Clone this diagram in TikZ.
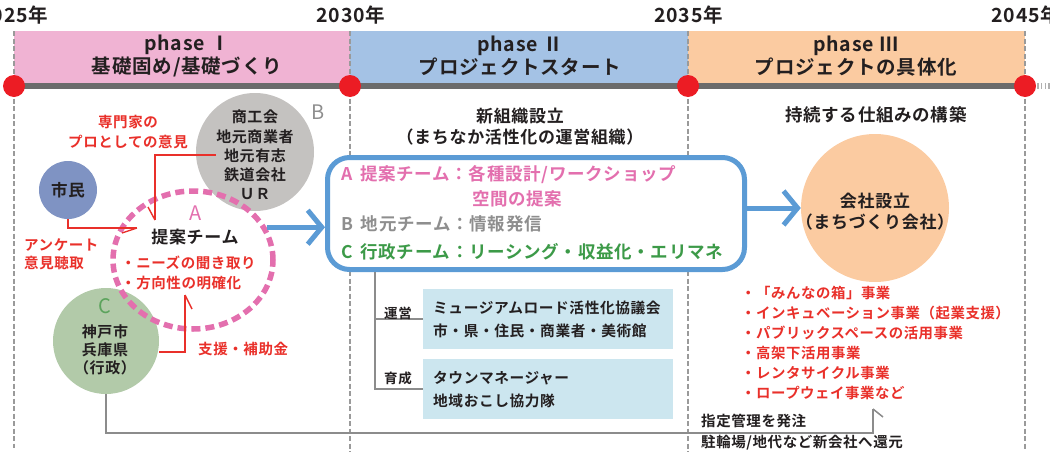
\documentclass[tikz,border=0pt]{standalone}
\usepackage{fontspec}
\setmainfont{Noto Sans CJK JP}[LetterSpace=5]
\newfontfamily\heavyjp{Noto Sans CJK JP Bold}[LetterSpace=4]
\usetikzlibrary{arrows.meta,shapes.geometric,calc}
\definecolor{ink}{HTML}{231F20}
\definecolor{pinkband}{HTML}{F0B3D3}
\definecolor{blueband}{HTML}{A4C2E5}
\definecolor{orangeband}{HTML}{FBCBA1}
\definecolor{tlgray}{HTML}{6B6B6B}
\definecolor{dotred}{HTML}{EC1C24}
\definecolor{redtext}{HTML}{E9302A}
\definecolor{apink}{HTML}{E36FAE}
\definecolor{bgraytxt}{HTML}{8E8E8E}
\definecolor{cgreen}{HTML}{3C9A48}
\definecolor{clabel}{HTML}{5BA35C}
\definecolor{shiminfill}{HTML}{7F93C3}
\definecolor{bfill}{HTML}{C4C2C0}
\definecolor{cfill}{HTML}{B2CAA9}
\definecolor{cblue}{HTML}{5B9BD5}
\definecolor{lbfill}{HTML}{CCE6EF}
\definecolor{linegray}{HTML}{8C8C8C}
\definecolor{dashgray}{HTML}{9A9A9A}
\definecolor{stubgray}{HTML}{B0B0B0}
\tikzset{
  yearlab/.style={inner sep=0pt, font=\fontsize{19.5}{22}\selectfont\heavyjp, text=ink},
  phasetxt/.style={inner sep=0pt, align=center, font=\fontsize{19.5}{23}\selectfont\heavyjp, text=ink},
  vdash/.style={draw=dashgray, line width=2pt, dash pattern=on 5pt off 2.5pt},
  reddot/.style={circle, fill=dotred, minimum size=22pt, inner sep=0pt},
  circtxt/.style={inner sep=0pt, align=center, font=\fontsize{15}{19.2}\selectfont\heavyjp, text=ink},
  redtxt/.style={inner sep=0pt, font=\fontsize{14.5}{19.5}\selectfont\heavyjp, text=redtext},
  blktxt/.style={inner sep=0pt, font=\fontsize{14.5}{21}\selectfont\heavyjp, text=ink},
  headtxt/.style={inner sep=0pt, align=center, font=\fontsize{17}{21}\selectfont\heavyjp, text=ink},
  boxtxt/.style={inner sep=0pt, anchor=west, font=\fontsize{17.5}{21}\selectfont\heavyjp},
  biglab/.style={inner sep=0pt, font=\fontsize{20}{22}\selectfont},
  redline/.style={draw=redtext, line width=1.4pt},
  grayline/.style={draw=linegray, line width=1.5pt},
  bluearrow/.style={draw=cblue, line width=5pt, -{Straight Barb[length=14pt, width=34pt]}},
  lbbox/.style={fill=lbfill, anchor=north west, minimum width=250pt, minimum height=60pt,
     inner xsep=10pt, text width=230pt, align=left, font=\fontsize{14.7}{23}\selectfont\heavyjp, text=ink},
  smalltxt/.style={inner sep=0pt, font=\fontsize{13.5}{16}\selectfont\heavyjp, text=ink}
}
\begin{document}
\begin{tikzpicture}[x=1pt,y=-1pt]
\useasboundingbox (0,0) rectangle (1050,461);
% phase bands
\fill[pinkband] (14,31) rectangle (350,83);
\fill[blueband] (350,31) rectangle (688,83);
\fill[orangeband] (688,31) rectangle (1025,83);
% dashed verticals
\draw[vdash] (14,31) -- (14,448);
\draw[vdash] (350,31) -- (350,452);
\draw[vdash] (688,31) -- (688,452);
\draw[vdash] (1025,31) -- (1025,450);
% timeline
\coordinate (tl0) at (14,86);
\coordinate (tl1) at (1025,86);
\draw[tlgray, line width=6pt] (tl0) -- (tl1);
\coordinate (stubA) at (1037,86);
\coordinate (stubB) at (1050,86);
\draw[stubgray, line width=6pt, dash pattern=on 1.5pt off 2.3pt] (stubA) -- (stubB);
\node[reddot] (d1) at (14,86) {};
\node[reddot] (d2) at (350,86) {};
\node[reddot] (d3) at (688,86) {};
\node[reddot] (d4) at (1025,86) {};
% years
\node[yearlab] (y1) at (14,15) {2025年};
\node[yearlab] (y2) at (351,15) {2030年};
\node[yearlab] (y3) at (688.5,15) {2035年};
\node[yearlab] (y4) at (1026,15) {2045年};
% phase titles
\node[phasetxt] (ph1) at (187,56) {phase Ⅰ\\基礎固め/基礎づくり};
\node[phasetxt] (ph2) at (520,56) {phase Ⅱ\\プロジェクトスタート};
\node[phasetxt] (ph3) at (856,56) {phase Ⅲ\\プロジェクトの具体化};
% phase I circles
\node[circle, fill=shiminfill, minimum size=58pt, inner sep=0pt, font=\fontsize{16.5}{18}\selectfont\heavyjp, text=ink] (shimin) at (68,190) {市民};
\node[circle, fill=bfill, minimum size=118pt, inner sep=0pt] (bcirc) at (255,152) {};
\node[circtxt] (btxt) at (255,155) {商工会\\地元商業者\\地元有志\\鉄道会社\\ＵＲ};
\node[biglab, text=bgraytxt] (blab) at (318,112) {B};
\node[circle, fill=cfill, minimum size=106pt, inner sep=0pt] (ccirc) at (106,341) {};
\node[biglab, text=clabel] (clab) at (105,306) {C};
\node[circtxt, font=\fontsize{15}{18}\selectfont\heavyjp] (ctxt) at (105,350) {神戸市\\兵庫県\\（行政）};
\node[ellipse, draw=apink, line width=5.5pt, dash pattern=on 9pt off 5pt, minimum width=160pt, minimum height=138pt, inner sep=0pt] (teian) at (193,260) {};
\node[biglab, text=apink] (alab) at (196,213) {A};
\node[inner sep=0pt, font=\fontsize{17}{20}\selectfont\heavyjp, text=ink] (teiantxt) at (195,237) {提案チーム};
\node[redtxt, anchor=west, align=left, font=\fontsize{14.5}{20}\selectfont\heavyjp] (needs) at (121,273) {・ニーズの聞き取り\\・方向性の明確化};
% red labels
\node[redtxt, align=center] (senmon) at (128,132) {専門家の\\プロとしての意見};
\node[redtxt, anchor=west, align=left, font=\fontsize{14.5}{18}\selectfont\heavyjp] (anke) at (24,254) {アンケート\\意見聴取};
\node[redtxt, anchor=west] (shien) at (198,349) {支援・補助金};
% red connectors
\coordinate (r1tip) at (137,228);
\draw[redline] (shimin.south) |- (r1tip);
\draw[redline] (r1tip) -- ++(-15,5);
\coordinate (bstart) at ($(bcirc.west)+(20,3)$);
\coordinate (r2tip) at (155,220);
\draw[redline] (bstart) -| (r2tip);
\draw[redline] (r2tip) -- ++(-7,-13);
\coordinate (r3tip) at (185,295);
\draw[redline] ($(ccirc.east)+(0,11)$) -| (r3tip);
\draw[redline] (r3tip) -- ++(7,14);
% phase II
\node[headtxt] (shinsoshiki) at (520,127) {新組織設立\\（まちなか活性化の運営組織）};
\node[draw=cblue, fill=white, line width=5pt, rounded corners=22pt, minimum width=417pt, minimum height=112pt, inner sep=0pt] (orgbox) at (536,213.5) {};
\node[boxtxt, text=apink] (bxA) at (341,175) {A\hspace{0.45em}提案チーム：各種設計/ワークショップ};
\node[boxtxt, text=apink] (bxA2) at (472,199) {空間の提案};
\node[boxtxt, text=bgraytxt] (bxB) at (341,224) {B\hspace{0.45em}地元チーム：情報発信};
\node[boxtxt, text=cgreen] (bxC) at (341,252) {C\hspace{0.45em}行政チーム：リーシング・収益化・エリマネ};
\draw[bluearrow] (teian.24) -- (teian.24 -| orgbox.west);
% tree
\node[lbbox] (box1) at (423,289) {ミュージアムロード活性化協議会\\市・県・住民・商業者・美術館};
\node[lbbox] (box2) at (423,359) {タウンマネージャー\\地域おこし協力隊};
\coordinate (t0) at (375,272);
\draw[grayline] (t0) |- (box2.west);
\draw[grayline] (t0 |- box1.west) -- (box1.west);
\node[smalltxt] (unei) at (398,313) {運営};
\node[smalltxt] (ikusei) at (398,378) {育成};
% phase III
\node[headtxt, font=\fontsize{17.5}{21}\selectfont\heavyjp] (jizoku) at (876,115) {持続する仕組みの構築};
\node[circle, fill=orangeband, minimum size=148pt, inner sep=0pt] (kaisha) at (875,208) {};
\node[headtxt] (kaishatxt) at (875,212) {会社設立\\（まちづくり会社）};
\draw[bluearrow] (orgbox.east |- kaisha.west) -- (kaisha.west);
\node[redtxt, anchor=north west, align=left, font=\fontsize{14.4}{20}\selectfont\heavyjp] (jigyo) at (741,286) {・「みんなの箱」事業\\・インキュベーション事業（起業支援）\\・パブリックスペースの活用事業\\・高架下活用事業\\・レンタサイクル事業\\・ロープウェイ事業など};
% bottom gray connector
\coordinate (g1) at (873,433);
\coordinate (gtip) at (873,409);
\draw[grayline] (ccirc.south) |- (g1) -- (gtip);
\draw[grayline] (gtip) -- ++(10,8);
\node[blktxt, anchor=west, align=left] (shitei) at (701,432) {指定管理を発注\\駐輪場/地代など新会社へ還元};
\end{tikzpicture}
\end{document}
